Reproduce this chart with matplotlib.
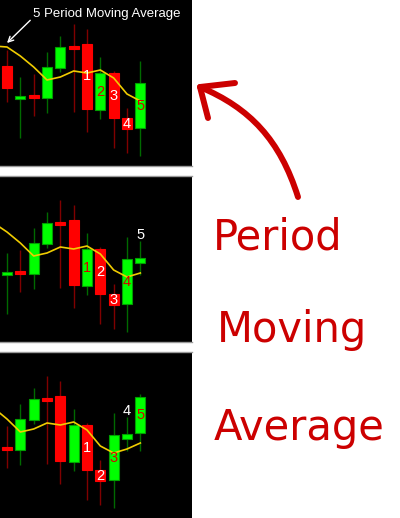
import matplotlib
matplotlib.use("Agg")
import matplotlib.pyplot as plt
from matplotlib.path import Path
from matplotlib.patches import PathPatch
import numpy as np

# ---- data (13 candles; each panel shows 11 of them, shifted by one) ----
opens  = [134, 101, 105, 102, 132, 154, 156,  90, 127,  82,  72, 113, 119]
closes = [112, 104, 102, 133, 153, 151,  91, 127,  82,  71, 117, 118, 155]
highs  = [150, 123, 126, 148, 164, 176, 171, 143, 129,  92, 139, 135, 158]
lows   = [ 98,  62,  84,  87, 128,  88,  68,  81,  52,  47,  44, 101, 101]
# 5-period moving average, from the candle before the first one
ma_values = [154, 153, 144, 133, 120, 123, 129, 127, 130, 122, 106, 99, 103, 109]
panel_starts = [0, 1, 2]
count_labels = ["1", "2", "3", "4", "5"]
side_words = ["Period", "Moving", "Average"]
title_text = "5 Period Moving Average"

W, H = 400, 518
fig = plt.figure(figsize=(W / 100, H / 100), dpi=100)
fig.patch.set_facecolor("white")

GREEN = "#00ff00"
GREEN_EDGE = "#00a000"
GREEN_WICK = "#006a00"
RED = "#ff0000"
RED_WICK = "#800000"
MA_COLOR = "#f0cc00"
LABEL_RED = "#d40000"

panel_h = 166
pitch = 176
for p, start in enumerate(panel_starts):
    top = p * pitch
    ax = fig.add_axes([0, 1 - (top + panel_h) / H, 192 / W, panel_h / H])
    ax.set_facecolor("black")
    idx = list(range(start, start + 11))
    for k, i in enumerate(idx):
        o, c, h, l = opens[i], closes[i], highs[i], lows[i]
        up = c >= o
        ax.vlines(k, l, h, color=GREEN_WICK if up else RED_WICK, lw=1.0, zorder=1)
        ax.bar(k, abs(c - o), bottom=min(o, c), width=0.76,
               color=GREEN if up else RED,
               edgecolor=GREEN_EDGE if up else RED, lw=0.8, zorder=2)
    ma_x = np.arange(-1, 11)
    ma_y = ma_values[start:start + 12]
    ax.plot(ma_x, ma_y, color=MA_COLOR, lw=1.2, zorder=3)
    # count labels on the last five candles
    for n, i in enumerate(idx[-5:]):
        k = 6 + n
        o, c, h = opens[i], closes[i], highs[i]
        up = c >= o
        if abs(c - o) < 8:
            y = h + 6
            col = "white"
        else:
            y = (o + c) / 2
            col = LABEL_RED if up else "white"
        ax.text(k, y, count_labels[n], color=col, ha="center", va="center",
                fontsize=10.5, family="Liberation Sans", zorder=4)
    ax.set_xlim(-0.525, 13.875)
    ax.set_ylim(200 - panel_h, 200)
    ax.set_xticks([])
    ax.set_yticks([])
    for s in ("left", "right"):
        ax.spines[s].set_visible(False)
    for s in ("top", "bottom"):
        ax.spines[s].set_color("#9a9a9a")
        ax.spines[s].set_linewidth(1.0)
    if p == 0:
        ax.spines["top"].set_visible(False)
        ax.annotate(title_text, xy=(7 / 192, 1 - 43 / 166), xycoords="axes fraction",
                    xytext=(33 / 192, 1 - 14 / 166), textcoords="axes fraction",
                    color="white", fontsize=9.5, family="Liberation Sans",
                    ha="left", va="center",
                    arrowprops=dict(arrowstyle="->", color="white", lw=1.0,
                                    relpos=(0, 0.2), shrinkA=0, shrinkB=0))
    if p == len(panel_starts) - 1:
        ax.spines["bottom"].set_visible(False)

# ---- overlay for the handwritten annotation ----
ov = fig.add_axes([0, 0, 1, 1], zorder=10)
ov.set_xlim(0, W)
ov.set_ylim(H, 0)
ov.axis("off")
ov.patch.set_alpha(0)

verts = [(298, 197), (280, 140), (250, 108), (200, 87)]
codes = [Path.MOVETO, Path.CURVE4, Path.CURVE4, Path.CURVE4]
ov.add_patch(PathPatch(Path(verts, codes), fill=False, edgecolor="#cc0000",
                       lw=4.3, capstyle="round", joinstyle="round"))
ov.plot([235, 200, 208], [83, 87, 118], color="#cc0000", lw=4.3,
        solid_capstyle="round", solid_joinstyle="round")

for word, (x, y) in zip(side_words, [(213, 249), (217, 342), (214, 440)]):
    ov.text(x, y, word, color="#cc0000", fontsize=30, family="DejaVu Sans",
            ha="left", va="baseline")

fig.savefig("out.png", dpi=100, facecolor="white")
